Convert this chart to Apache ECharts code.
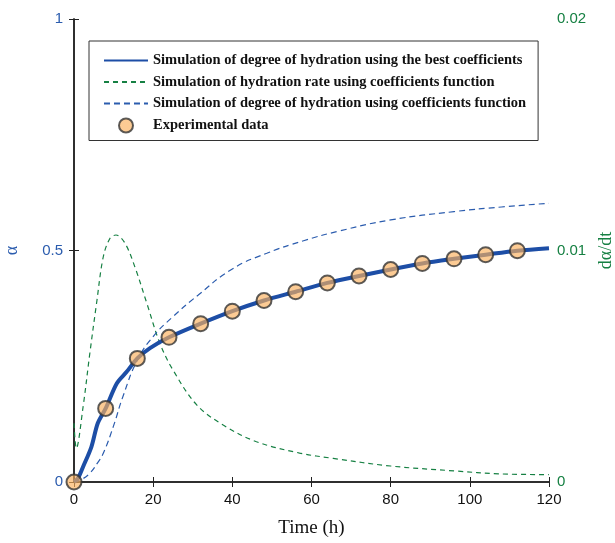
<!DOCTYPE html>
<html>
<head>
<meta charset="utf-8">
<script src="https://cdn.jsdelivr.net/npm/echarts@6/dist/echarts.min.js"></script>
<style>
  html, body { margin: 0; padding: 0; background: #fff; }
  #main { width: 615px; height: 543px; }
</style>
</head>
<body>
<div id="main"></div>
<script>
// experimental points
var expHours = [0, 8, 16, 24, 32, 40, 48, 56, 64, 72, 80, 88, 96, 104, 112];
var expAlpha = [0, 0.159, 0.267, 0.3125, 0.342, 0.369, 0.392, 0.411, 0.43, 0.445, 0.459, 0.472, 0.482, 0.491, 0.4996];

// best coefficients (solid)
var bestHours = [0, 1, 2.3, 4.4, 6, 8, 10.8, 13.3, 16, 19.2, 24, 32, 40, 48, 56, 64, 72, 80, 88, 96, 104, 112, 120];
var bestAlpha = [0, 0.008, 0.033, 0.076, 0.127, 0.159, 0.213, 0.238, 0.267, 0.289, 0.3125, 0.342, 0.369, 0.392, 0.411, 0.43, 0.445, 0.459, 0.472, 0.482, 0.491, 0.4996, 0.505];

// degree of hydration, coefficients function (blue dashed)
var fcnHours = [0, 2, 4, 6, 7.4, 9.9, 12.5, 16, 20, 25, 31.4, 40, 48.7, 58, 67, 80, 96, 108, 120];
var fcnAlpha = [0, 0.006, 0.019, 0.042, 0.062, 0.119, 0.188, 0.263, 0.314, 0.357, 0.404, 0.46, 0.494, 0.521, 0.542, 0.566, 0.584, 0.594, 0.602];

// hydration rate (green dashed, right axis)
var rateHours = [0, 0.6, 2.3, 4, 5.7, 7.4, 9.1, 10.6, 12.9, 15.5, 18.4, 21.7, 25, 31, 37.7, 46.1, 57, 65.5, 80, 96, 107.6, 120];
var rateVals = [0.00254, 0.00146, 0.00325, 0.00556, 0.00772, 0.00973, 0.01053, 0.01067, 0.01031, 0.00923, 0.00772, 0.00599, 0.00484, 0.00333, 0.00246, 0.00174, 0.00125, 0.00102, 0.00069, 0.00048, 0.00035, 0.00032];

function pairs(xs, ys) {
  var out = [];
  for (var i = 0; i < xs.length; i++) out.push([xs[i], ys[i]]);
  return out;
}

var blue = '#2b5cae';
var green = '#168043';
var axisCol = '#222';

var chart = echarts.init(document.getElementById('main'));

var noSym = { opacity: 0, borderWidth: 0 };

var option = {
  animation: false,
  backgroundColor: '#fff',
  grid: { left: 74, right: 66, top: 19, bottom: 61, outerBoundsMode: 'none', containLabel: false },
  legend: {
    orient: 'vertical',
    left: 89,
    top: 41,
    padding: [12, 12, 7, 14],
    itemGap: 6.5,
    itemWidth: 44,
    itemHeight: 14,
    borderColor: '#333',
    borderWidth: 1,
    backgroundColor: '#fff',
    textStyle: { fontFamily: 'Liberation Serif', fontWeight: 'bold', fontSize: 14.5, color: '#111' },
    data: [
      { name: 'Simulation of degree of hydration using the best coefficients', itemStyle: noSym },
      { name: 'Simulation of hydration rate using coefficients function', itemStyle: noSym },
      { name: 'Simulation of degree of hydration using coefficients function', itemStyle: noSym },
      { name: 'Experimental data' }
    ]
  },
  xAxis: [{
    type: 'value', min: 0, max: 120, interval: 20,
    name: 'Time (h)', nameLocation: 'middle', nameGap: 37,
    nameTextStyle: { fontFamily: 'Liberation Serif', fontSize: 19, color: '#111' },
    axisLine: { lineStyle: { color: axisCol, width: 1.5 } },
    axisTick: { inside: true, length: 5, lineStyle: { color: axisCol } },
    axisLabel: { color: '#111', fontSize: 15, fontFamily: 'Liberation Sans', margin: 10 },
    splitLine: { show: false }
  }, {
    type: 'value', min: 0, max: 120, interval: 20, position: 'top',
    axisLine: { show: true, lineStyle: { color: axisCol, width: 1.5 } },
    axisTick: { inside: true, length: 5, lineStyle: { color: axisCol } },
    axisLabel: { show: false },
    splitLine: { show: false }
  }],
  yAxis: [{
    type: 'value', min: 0, max: 1, interval: 0.5,
    name: 'α', nameLocation: 'middle', nameGap: 53, nameRotate: 90,
    nameTextStyle: { fontFamily: 'Liberation Serif', fontSize: 18, color: blue },
    axisLine: { show: true, lineStyle: { color: axisCol, width: 1.5 } },
    axisTick: { inside: true, length: 5, lineStyle: { color: axisCol } },
    axisLabel: { color: blue, fontSize: 15, fontFamily: 'Liberation Sans', margin: 11 },
    splitLine: { show: false }
  }, {
    type: 'value', min: 0, max: 0.02, interval: 0.01, position: 'right',
    name: 'dα/dt', nameLocation: 'middle', nameGap: 46, nameRotate: 90,
    nameTextStyle: { fontFamily: 'Liberation Serif', fontSize: 18, color: green },
    axisLine: { show: true, lineStyle: { color: axisCol, width: 1.5 } },
    axisTick: { inside: true, length: 5, lineStyle: { color: axisCol } },
    axisLabel: { color: green, fontSize: 15, fontFamily: 'Liberation Sans', margin: 8 },
    splitLine: { show: false }
  }],
  series: [{
    name: 'Simulation of hydration rate using coefficients function',
    type: 'line', yAxisIndex: 1, smooth: 0.35, symbol: 'none',
    data: pairs(rateHours, rateVals),
    lineStyle: { color: green, width: 1.2, type: [5, 4] },
    itemStyle: { color: green },
    z: 2
  }, {
    name: 'Simulation of degree of hydration using coefficients function',
    type: 'line', smooth: 0.5, symbol: 'none',
    data: pairs(fcnHours, fcnAlpha),
    lineStyle: { color: blue, width: 1.2, type: [6, 4] },
    itemStyle: { color: blue },
    z: 2
  }, {
    name: 'Simulation of degree of hydration using the best coefficients',
    type: 'line', smooth: 0.3, symbol: 'none',
    data: pairs(bestHours, bestAlpha),
    lineStyle: { color: '#1d4ea6', width: 4 },
    itemStyle: { color: '#1d4ea6' },
    z: 3
  }, {
    name: 'Experimental data',
    type: 'scatter', symbol: 'circle', symbolSize: 15, clip: false,
    data: pairs(expHours, expAlpha),
    itemStyle: { color: 'rgba(250,176,92,0.82)', borderColor: '#333', borderWidth: 2 },
    z: 4
  }]
};

chart.setOption(option);
</script>
</body>
</html>
